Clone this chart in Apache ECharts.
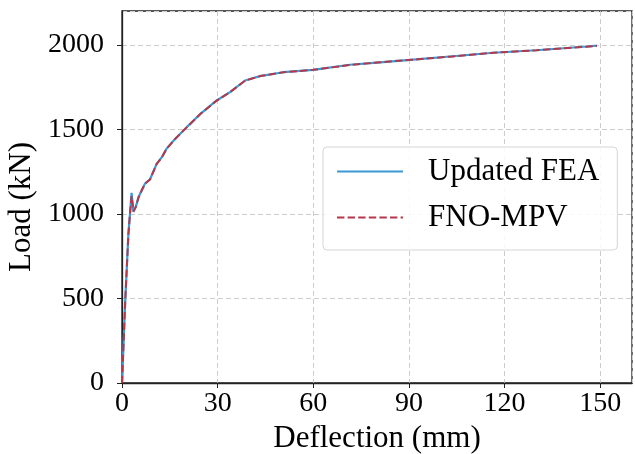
<!DOCTYPE html>
<html>
<head>
<meta charset="utf-8">
<script src="https://cdn.jsdelivr.net/npm/echarts@6/dist/echarts.min.js"></script>
<style>
  html, body { margin: 0; padding: 0; background: #fff; }
  #chart { width: 635px; height: 454px; }
</style>
</head>
<body>
<div id="chart"></div>
<script>
// deflection (mm)
const deflection = [0, 0.5, 1.0, 1.5, 2.0, 2.5, 3.0, 3.6, 4.3, 5.2, 6.2, 7.2, 8.8, 10.9, 12.5, 14.0, 16.5, 20.3, 25.0, 29.7, 33.9, 38.6, 43.3, 50.6, 60.0, 71.5, 80.0, 90.4, 102.9, 116.5, 130.0, 145.8, 149.0]
// load (kN)
const feaLoad = [0, 240, 480, 680, 880, 1000, 1124, 1012, 1040, 1100, 1140, 1179, 1205, 1297, 1335, 1386, 1440, 1513, 1598, 1671, 1720, 1789, 1815, 1838, 1852, 1882, 1895, 1911, 1931, 1953, 1968, 1990, 1995]
const fnoLoad = [0, 238, 478, 678, 878, 998, 1105, 1015, 1040, 1098, 1140, 1178, 1204, 1296, 1334, 1385, 1440, 1512, 1598, 1670, 1720, 1788, 1815, 1838, 1852, 1881, 1895, 1911, 1930, 1953, 1968, 1989, 1993]
const xTicks = { min: 0, max: 160, interval: 30 }
const yTicks = { min: 0, max: 2200, interval: 500 }

const serif = 'Liberation Serif'
const toPairs = (xs, ys) => xs.map((x, i) => [x, ys[i]])

const chart = echarts.init(document.getElementById('chart'))
const option = {
    animation: false,
    grid: {
        left: 122,
        right: 3,
        top: 11,
        bottom: 71,
        outerBoundsMode: 'none',
        show: true,
        borderColor: '#222',
        borderWidth: 1.3,
        backgroundColor: 'transparent'
    },
    legend: {
        orient: 'vertical',
        left: 323,
        top: 147,
        padding: [9, 18, 17, 13],
        itemGap: 15,
        itemWidth: 66,
        itemHeight: 14,
        itemStyle: { opacity: 0 },
        backgroundColor: 'rgba(255,255,255,0.85)',
        borderColor: '#d5d5d5',
        borderWidth: 1,
        borderRadius: 4,
        textStyle: {
            fontFamily: serif,
            fontSize: 31,
            color: '#000',
            lineHeight: 31,
            padding: [0, 0, 0, 20]
        },
        data: ['Updated FEA', 'FNO-MPV']
    },
    xAxis: {
        type: 'value',
        min: xTicks.min,
        max: xTicks.max,
        interval: xTicks.interval,
        name: 'Deflection (mm)',
        nameLocation: 'middle',
        nameGap: 40,
        nameTextStyle: { fontFamily: serif, fontSize: 31, color: '#000' },
        axisLine: { show: true, lineStyle: { color: '#222', width: 1.3 } },
        axisTick: { show: true, inside: false, length: 5, lineStyle: { color: '#222' } },
        axisLabel: { margin: 7, fontFamily: serif, fontSize: 28, color: '#000', showMaxLabel: false, formatter: v => String(v) },
        splitLine: { show: true, lineStyle: { color: '#cccccc', type: [5, 3], width: 1 } }
    },
    yAxis: {
        type: 'value',
        min: yTicks.min,
        max: yTicks.max,
        interval: yTicks.interval,
        name: 'Load (kN)',
        nameLocation: 'middle',
        nameGap: 79,
        nameTextStyle: { fontFamily: serif, fontSize: 31, color: '#000', padding: [0, 20, 0, 0] },
        axisLine: { show: true, lineStyle: { color: '#222', width: 1.3 } },
        axisTick: { show: true, inside: false, length: 5, lineStyle: { color: '#222' } },
        axisLabel: { margin: 18, fontFamily: serif, fontSize: 28, color: '#000', showMaxLabel: false, formatter: v => String(v) },
        splitLine: { show: true, lineStyle: { color: '#cccccc', type: [5, 3], width: 1 } }
    },
    series: [
        {
            name: 'Updated FEA',
            type: 'line',
            symbol: 'none',
            showSymbol: false,
            lineStyle: { color: '#3a9ad6', width: 2.2 },
            itemStyle: { color: '#3a9ad6' },
            data: toPairs(deflection, feaLoad)
        },
        {
            name: 'FNO-MPV',
            type: 'line',
            symbol: 'none',
            showSymbol: false,
            lineStyle: { color: '#b4374a', width: 2, type: [7.4, 3.2] },
            itemStyle: { color: '#b4374a' },
            data: toPairs(deflection, fnoLoad)
        }
    ]
}
chart.setOption(option)
</script>
</body>
</html>
